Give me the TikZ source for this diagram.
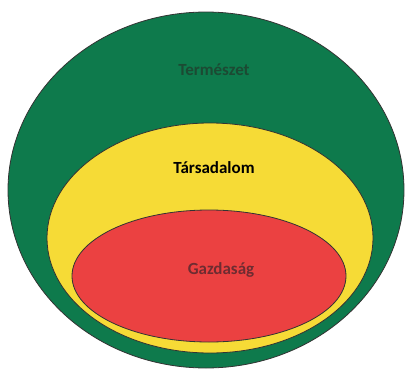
\documentclass[tikz,border=0pt]{standalone}
\usepackage{fontspec}
\setmainfont{Carlito}
\definecolor{nat}{HTML}{0E7A4C}
\definecolor{soc}{HTML}{F6DB36}
\definecolor{eco}{HTML}{EB4141}
\definecolor{natt}{HTML}{1C4A33}
\definecolor{ecot}{HTML}{6E2C31}
\tikzset{ring/.style={draw=black!80, line width=0.8pt},
  lbl/.style={font=\bfseries\fontsize{17}{20}\selectfont, inner sep=0pt}}
\begin{document}
\begin{tikzpicture}[x=1pt,y=-1pt]
\useasboundingbox[fill=white] (0,0) rectangle (405,370);
\filldraw[ring, fill=nat] (206,190) ellipse [x radius=198, y radius=178];
\filldraw[ring, fill=soc] (210,238) ellipse [x radius=163, y radius=115];
\filldraw[ring, fill=eco] (209,276) ellipse [x radius=137, y radius=66];
\node[lbl, text=natt] (n) at (214,70) {Természet};
\node[lbl, text=black] (s) at (214,168) {Társadalom};
\node[lbl, text=ecot] (g) at (221,270) {Gazdaság};
\end{tikzpicture}
\end{document}
